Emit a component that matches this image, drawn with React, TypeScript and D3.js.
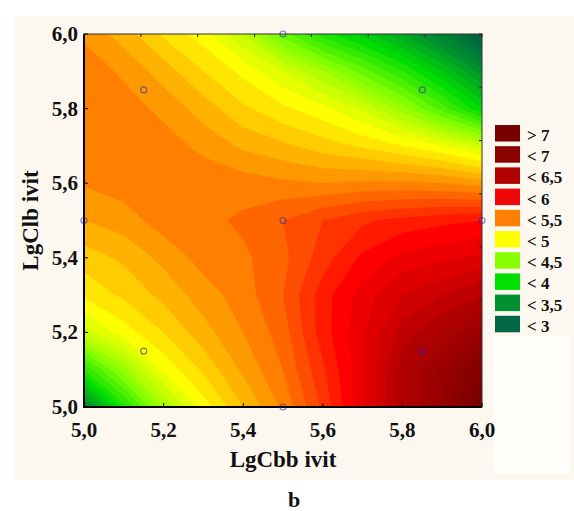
import React, { useMemo } from "react";
import * as d3 from "d3";

// grid of response values (rows: LgClb from 6.0 down to 5.0; cols: LgCbb 5.0 -> 6.0)
const xGrid = [5.0, 5.1, 5.2, 5.3, 5.4, 5.5, 5.6, 5.7, 5.8, 5.9, 6.0];
const yGrid = [6.0, 5.9, 5.8, 5.7, 5.6, 5.5, 5.4, 5.3, 5.2, 5.1, 5.0];
const row60 = [5.38, 5.25, 5.08, 4.95, 4.7, 4.35, 4.05, 3.85, 3.6, 3.3, 2.9];
const row59 = [5.46, 5.38, 5.25, 5.1, 4.97, 4.8, 4.6, 4.35, 4.1, 3.8, 3.45];
const row58 = [5.48, 5.45, 5.37, 5.25, 5.12, 5.02, 4.93, 4.78, 4.55, 4.25, 3.9];
const row57 = [5.47, 5.47, 5.45, 5.37, 5.28, 5.22, 5.15, 5.08, 5.0, 4.9, 4.75];
const row56 = [5.41, 5.45, 5.47, 5.47, 5.45, 5.42, 5.4, 5.42, 5.42, 5.4, 5.35];
const row55 = [5.3, 5.35, 5.45, 5.47, 5.52, 5.6, 5.7, 5.78, 5.83, 5.87, 5.9];
const row54 = [5.15, 5.22, 5.33, 5.44, 5.48, 5.57, 5.75, 5.92, 6.03, 6.08, 6.12];
const row53 = [5.02, 5.12, 5.23, 5.35, 5.45, 5.6, 5.85, 6.05, 6.2, 6.3, 6.4];
const row52 = [4.75, 4.95, 5.1, 5.26, 5.4, 5.55, 5.85, 6.08, 6.35, 6.5, 6.75];
const row51 = [4.1, 4.55, 4.92, 5.12, 5.32, 5.5, 5.78, 6.08, 6.45, 6.75, 7.1];
const row50 = [3.35, 4.05, 4.6, 4.95, 5.2, 5.42, 5.72, 6.08, 6.45, 6.8, 7.3];
const zRows = [row60, row59, row58, row57, row56, row55, row54, row53, row52, row51, row50];

// experimental design points
const pointsX = [5.0, 5.15, 5.15, 5.5, 5.5, 5.5, 5.85, 5.85, 6.0];
const pointsY = [5.5, 5.15, 5.85, 5.0, 5.5, 6.0, 5.15, 5.85, 5.5];

// colour anchors and legend
const anchorValues = [3.0, 3.5, 4.0, 4.5, 5.0, 5.5, 6.0, 6.5, 7.0, 7.5];
const anchorColors = ["#006040", "#009030", "#00dd00", "#80ff00", "#ffff00", "#ff8000", "#ff0000", "#b00000", "#8b0000", "#700000"];
const legendLabels = ["> 7", "< 7", "< 6,5", "< 6", "< 5,5", "< 5", "< 4,5", "< 4", "< 3,5", "< 3"];
const legendColors = ["#780000", "#8c0000", "#b20000", "#f00808", "#ff8000", "#ffff00", "#88ff00", "#00e000", "#009030", "#006646"];

const xTicks = [5.0, 5.2, 5.4, 5.6, 5.8, 6.0];
const yTicks = [5.0, 5.2, 5.4, 5.6, 5.8, 6.0];
const xTitle = "LgCbb ivit";
const yTitle = "LgClb ivit";
const caption = "b";

const W = 574;
const H = 511;
const L = 84, R = 482, T = 34, B = 407;
const FONT = "'Liberation Serif', 'Times New Roman', serif";

export default function App() {
  const x = d3.scaleLinear().domain([5.0, 6.0]).range([L, R]);
  const y = d3.scaleLinear().domain([5.0, 6.0]).range([B, T]);
  const fmt = (v: number) => d3.format(".1f")(v).replace(".", ",");

  const color = d3
    .scaleLinear<string>()
    .domain(anchorValues)
    .range(anchorColors)
    .interpolate(d3.interpolateRgb)
    .clamp(true);

  const bands = useMemo(() => {
    const nx = xGrid.length;
    const ny = yGrid.length;
    const values = zRows.flat();
    const thresholds = d3.range(25, 76).map((d) => d / 10);
    const gx = d3.scaleLinear().domain([0.5, nx - 0.5]).range([x(xGrid[0]), x(xGrid[nx - 1])]);
    const gy = d3.scaleLinear().domain([0.5, ny - 0.5]).range([y(yGrid[0]), y(yGrid[ny - 1])]);
    const proj = d3.geoTransform({
      point: function (px: number, py: number) {
        (this as any).stream.point(gx(px), gy(py));
      },
    });
    const path = d3.geoPath(proj);
    const cs = d3.contours().size([nx, ny]).thresholds(thresholds)(values);
    return cs.map((c) => ({ d: path(c as any) || "", fill: color(c.value + 0.1) }));
  }, []);

  const topTicks = d3.range(0, 8).map((i) => L + ((R - L) * i) / 7);
  const rightTicks = d3.range(0, 8).map((i) => T + ((B - T) * i) / 7);

  return (
    <svg width={W} height={H} style={{ position: "absolute", left: 0, top: 0 }} fontFamily={FONT}>
      <rect x={0} y={0} width={W} height={H} fill="#ffffff" />
      <rect x={14} y={16} width={W - 14} height={480 - 16} fill="#fcf8ef" />
      <rect x={493} y={336} width={77} height={137} fill="#fffefb" />
      <defs>
        <clipPath id="plotClip">
          <rect x={L} y={T} width={R - L} height={B - T} />
        </clipPath>
      </defs>
      <g clipPath="url(#plotClip)">
        {bands.map((b, i) => (
          <path key={i} d={b.d} fill={b.fill} stroke={b.fill} strokeWidth={0.4} />
        ))}
      </g>
      {/* frame */}
      <rect x={L} y={T} width={R - L} height={B - T} fill="none" stroke="#333" strokeWidth={1} />
      <line x1={L} x2={L} y1={T} y2={B + 1} stroke="#000" strokeWidth={2} />
      <line x1={L - 1} x2={R} y1={B} y2={B} stroke="#000" strokeWidth={2} />
      {/* ticks */}
      {xTicks.map((t) => (
        <line key={"bx" + t} x1={x(t)} x2={x(t)} y1={B} y2={B - 4} stroke="#000" strokeWidth={1} />
      ))}
      {yTicks.map((t) => (
        <line key={"ly" + t} x1={L} x2={L + 4} y1={y(t)} y2={y(t)} stroke="#000" strokeWidth={1} />
      ))}
      {topTicks.map((t, i) => (
        <line key={"tx" + i} x1={t} x2={t} y1={T} y2={T + 3} stroke="#222" strokeWidth={1} />
      ))}
      {rightTicks.map((t, i) => (
        <line key={"ry" + i} x1={R} x2={R - 3} y1={t} y2={t} stroke="#222" strokeWidth={1} />
      ))}
      {/* design points */}
      {pointsX.map((px, i) => (
        <circle key={"p" + i} cx={x(px)} cy={y(pointsY[i])} r={3} fill="none" stroke="rgba(40,40,190,0.6)" strokeWidth={1.2} />
      ))}
      {/* tick labels */}
      {xTicks.map((t) => (
        <text key={"xl" + t} x={x(t)} y={437} textAnchor="middle" fontSize={21} fontWeight="bold" fill="#111">
          {fmt(t)}
        </text>
      ))}
      {yTicks.map((t) => (
        <text key={"yl" + t} x={78} y={y(t) + 7} textAnchor="end" fontSize={21} fontWeight="bold" fill="#111">
          {fmt(t)}
        </text>
      ))}
      <text x={(L + R) / 2} y={467} textAnchor="middle" fontSize={23} fontWeight="bold" fill="#111">
        {xTitle}
      </text>
      <text transform={`translate(38,${(T + B) / 2}) rotate(-90)`} textAnchor="middle" fontSize={23} fontWeight="bold" fill="#111">
        {yTitle}
      </text>
      {/* legend */}
      {legendLabels.map((lab, i) => {
        const yy = 125 + i * 21.2;
        return (
          <g key={"lg" + i}>
            <rect x={495} y={yy} width={25} height={16.5} fill={legendColors[i]} />
            <text x={527} y={yy + 16} fontSize={17} fontWeight="bold" fill="#111">
              {lab}
            </text>
          </g>
        );
      })}
      <text x={294} y={507} textAnchor="middle" fontSize={22} fontWeight="bold" fill="#111">
        {caption}
      </text>
    </svg>
  );
}
